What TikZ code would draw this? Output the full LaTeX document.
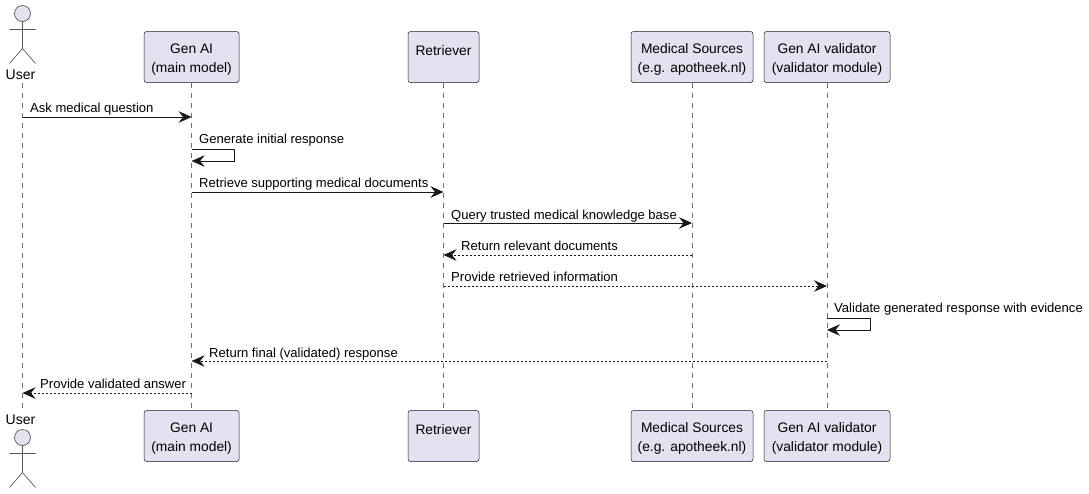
\documentclass[tikz,border=0pt]{standalone}
\usepackage{fontspec}
\setmainfont{Liberation Sans}
\usetikzlibrary{arrows.meta,calc}
\pgfdeclarelayer{lifelines}
\pgfsetlayers{lifelines,main}
\definecolor{ink}{HTML}{181818}
\definecolor{lifeink}{HTML}{707070}
\definecolor{partfill}{HTML}{E2E2F0}
\newcommand{\topstrut}{\rule{0pt}{15.5pt}}
\tikzset{
  x=1pt,y=-1pt,
  part/.style={draw=ink,fill=partfill,line width=0.5pt,rounded corners=2.5pt,align=center,inner sep=0pt,font=\fontsize{13.8}{19}\selectfont,text=black,minimum height=51pt},
  actorlabel/.style={inner sep=0pt,font=\fontsize{14}{16}\selectfont,text=black},
  actorline/.style={draw=lifeink!80!black,line width=0.7pt},
  life/.style={draw=lifeink,line width=0.6pt,dash pattern=on 5pt off 5pt},
  tip/.style={-{Stealth[length=13pt,width=11.5pt,inset=4.5pt,color=ink]}},
  msg/.style={draw=ink,line width=0.8pt,tip},
  reply/.style={msg,dash pattern=on 2pt off 2pt},
  selfmsg/.style={msg},
  lbl/.style={anchor=base west,inner sep=0pt,font=\fontsize{13.05}{15}\selectfont,text=black},
}
\newcommand{\stick}[2]{% head centre x, head centre y
  \draw[actorline,fill=partfill] (#1,#2) circle[radius=8pt];
  \draw[actorline] (#1,#2+8) -- (#1,#2+35)
     (#1-13,#2+16) -- (#1+13,#2+16)
     (#1-13,#2+50) -- (#1,#2+35) -- (#1+13,#2+50);
}
\begin{document}
\begin{tikzpicture}
\useasboundingbox (0,0) rectangle (1089,493);
% participants, top row
\node[actorlabel] (userT) at (20.5,75) {User};
\node[part,minimum width=95pt] (genT) at (191.6,57) {\topstrut Gen AI\\(main model)};
\node[part,minimum width=71pt] (retT) at (443.5,57) {\topstrut Retriever\\\mbox{}};
\node[part,minimum width=122pt] (medT) at (692,57) {\topstrut Medical Sources\\(e.g. apotheek.nl)};
\node[part,minimum width=126pt] (valT) at (827,57) {\topstrut Gen AI validator\\(validator module)};
% participants, bottom row
\node[actorlabel] (userB) at (20.5,420) {User};
\node[part,minimum width=95pt] (genB) at (191.6,436) {\topstrut Gen AI\\(main model)};
\node[part,minimum width=71pt] (retB) at (443.5,436) {\topstrut Retriever\\\mbox{}};
\node[part,minimum width=122pt] (medB) at (692,436) {\topstrut Medical Sources\\(e.g. apotheek.nl)};
\node[part,minimum width=126pt] (valB) at (827,436) {\topstrut Gen AI validator\\(validator module)};
\coordinate (userTl) at (22.5,83);
\coordinate (userBl) at (22.5,410);
% lifelines
\begin{pgfonlayer}{lifelines}
\draw[life] (userTl) -- (userBl);
\draw[life] (genT) -- (genB);
\draw[life] (retT) -- (retB);
\draw[life] (medT) -- (medB);
\draw[life] (valT) -- (valB);
\end{pgfonlayer}
% actors
\stick{22.5}{13.5}
\stick{22.5}{437.5}
% messages
\draw[msg] (userTl |- 0,117) -- (genT |- 0,117);
\node[lbl] at (30,112) {Ask medical question};
\draw[selfmsg] (genT |- 0,149) -- (234.5,149) -- (234.5,161) -- (genT |- 0,161);
\node[lbl] at (199,143) {Generate initial response};
\draw[msg] (genT |- 0,192) -- (retT |- 0,192);
\node[lbl] at (199,187) {Retrieve supporting medical documents};
\draw[msg] (retT |- 0,223) -- (medT |- 0,223);
\node[lbl] at (451,219) {Query trusted medical knowledge base};
\draw[reply] (medT |- 0,255) -- (retT |- 0,255);
\node[lbl] at (461,250) {Return relevant documents};
\draw[reply] (retT |- 0,286) -- (valT |- 0,286);
\node[lbl] at (451,281) {Provide retrieved information};
\draw[selfmsg] (valT |- 0,318) -- (870,318) -- (870,330) -- (valT |- 0,330);
\node[lbl] at (834,312) {Validate generated response with evidence};
\draw[reply] (valT |- 0,361) -- (genT |- 0,361);
\node[lbl] at (209,357) {Return final (validated) response};
\draw[reply] (genT |- 0,393) -- (userTl |- 0,393);
\node[lbl] at (40,388) {Provide validated answer};
\end{tikzpicture}
\end{document}
